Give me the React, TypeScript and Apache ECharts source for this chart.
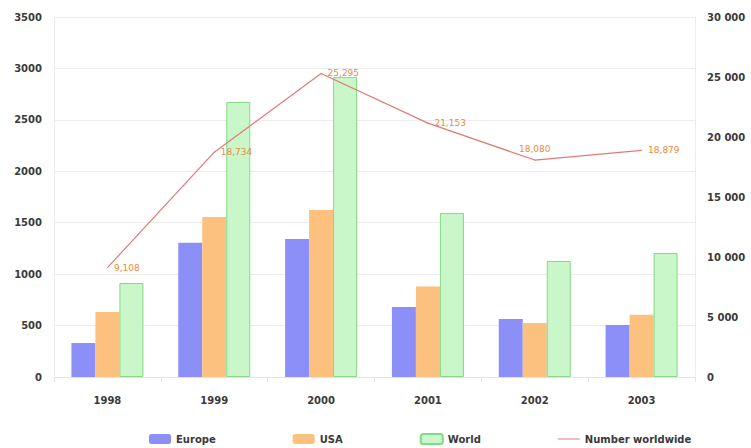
import React, { useEffect, useRef } from "react";
import * as echarts from "echarts";

const categories = ["1998", "1999", "2000", "2001", "2002", "2003"];
const europe = [330, 1305, 1342, 680, 564, 505];
const usa = [632, 1556, 1624, 880, 525, 605];
const world = [914, 2674, 2917, 1594, 1128, 1205];
const numberWorldwide = [9108, 18734, 25295, 21153, 18080, 18879];
const labelPositions = ["right", "right", "right", "right", "top", "right"];

const FONT = "DejaVu Sans";
const TEXT = "#3a3a3a";

export default function App() {
  const ref = useRef<HTMLDivElement>(null);
  useEffect(() => {
    if (!ref.current) return;
    const chart = echarts.init(ref.current, null, { renderer: "svg" });
    chart.setOption({
      animation: false,
      backgroundColor: "#ffffff",
      textStyle: { fontFamily: FONT },
      grid: { left: 54, right: 56, top: 17, bottom: 71 },
      legend: {
        left: 144,
        top: 428,
        itemWidth: 22,
        itemHeight: 10,
        itemGap: 77,
        textStyle: { fontFamily: FONT, fontSize: 10, fontWeight: "bold", color: TEXT },
        data: [
          { name: "Europe" },
          { name: "USA" },
          { name: "World" },
          { name: "Number worldwide", icon: "path://M0,5L22,5L22,6L0,6Z" },
        ],
      },
      xAxis: {
        type: "category",
        data: categories,
        axisLine: { lineStyle: { color: "#e4e4e4" } },
        axisTick: { show: true, lineStyle: { color: "#e4e4e4" } },
        axisLabel: { fontFamily: FONT, fontSize: 10, fontWeight: "bold", color: TEXT, margin: 18 },
      },
      yAxis: [
        {
          type: "value",
          min: 0,
          max: 3500,
          interval: 500,
          axisLine: { show: true, lineStyle: { color: "#ececec" } },
          axisTick: { show: false },
          splitLine: { lineStyle: { color: "#ececec" } },
          axisLabel: {
            fontFamily: FONT,
            fontSize: 10,
            fontWeight: "bold",
            color: TEXT,
            margin: 12,
            formatter: (v: number) => String(v),
          },
        },
        {
          type: "value",
          min: 0,
          max: 30000,
          interval: 5000,
          position: "right",
          axisLine: { show: true, lineStyle: { color: "#ececec" } },
          axisTick: { show: false },
          splitLine: { show: false },
          axisLabel: {
            fontFamily: FONT,
            fontSize: 10,
            fontWeight: "bold",
            color: TEXT,
            margin: 12,
            formatter: (v: number) =>
              v === 0 ? "0" : String(v).replace(/\B(?=(\d{3})+(?!\d))/g, " "),
          },
        },
      ],
      series: [
        {
          name: "Europe",
          type: "bar",
          data: europe,
          barWidth: 24,
          barGap: "0%",
          itemStyle: { color: "#8b8ff7" },
        },
        {
          name: "USA",
          type: "bar",
          data: usa,
          barWidth: 24,
          barGap: "0%",
          itemStyle: { color: "#fcc07f" },
        },
        {
          name: "World",
          type: "bar",
          data: world,
          barWidth: 24,
          barGap: "0%",
          itemStyle: { color: "#c9f7c9", borderColor: "#86d886", borderWidth: 1 },
        },
        {
          name: "Number worldwide",
          type: "line",
          yAxisIndex: 1,
          data: numberWorldwide.map((v, i) => ({
            value: v,
            label: { position: labelPositions[i] },
          })),
          symbol: "circle",
          symbolSize: 1,
          lineStyle: { color: "#e07a7a", width: 1.2 },
          itemStyle: { color: "#e07a7a" },
          label: {
            show: true,
            fontFamily: FONT,
            fontSize: 9,
            color: "#ee8a3a",
            distance: 6,
            formatter: (p: any) =>
              String(p.value).replace(/\B(?=(\d{3})+(?!\d))/g, ","),
          },
          z: 5,
        },
      ],
    });
    return () => chart.dispose();
  }, []);
  return <div ref={ref} style={{ width: 751, height: 448, position: "absolute", left: 0, top: 0 }} />;
}
